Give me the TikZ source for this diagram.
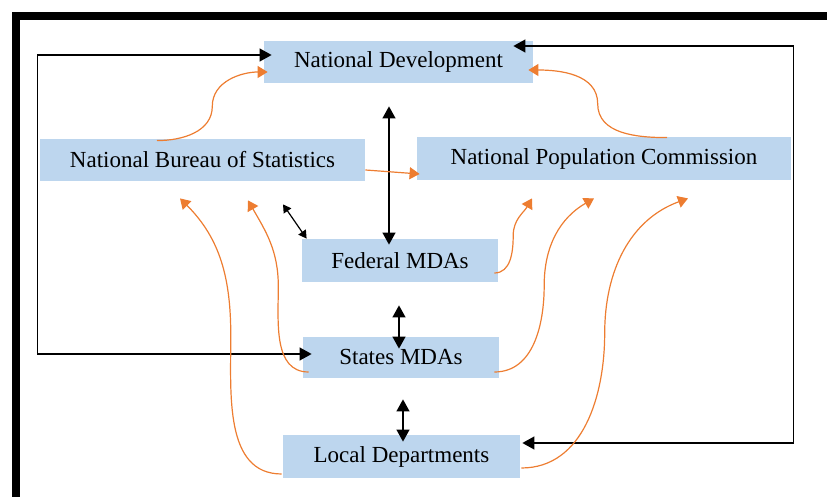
\documentclass[tikz,border=0pt]{standalone}
\usepackage{fontspec}
\setmainfont{Liberation Serif}
\usetikzlibrary{arrows.meta,calc}
\definecolor{boxblue}{RGB}{189,214,238}
\definecolor{feedorange}{RGB}{237,125,49}

\begin{document}
\begin{tikzpicture}[x=0.5pt,y=0.5pt,
    box/.style={fill=boxblue,inner sep=0pt,font=\fontsize{11.5}{13}\selectfont},
    link/.style={line width=0.6pt,{Triangle[length=6pt,width=6.5pt]}-{Triangle[length=6pt,width=6.5pt]}},
    slink/.style={line width=0.6pt,{Triangle[length=4pt,width=4.5pt]}-{Triangle[length=4pt,width=4.5pt]}},
    feed/.style={draw=feedorange,line width=0.6pt,-{Triangle[length=5pt,width=6pt]}}]
  \useasboundingbox (0,0) rectangle (827,497);
  \draw[line width=4pt] (16,-5) -- (16,481) -- (832,481);

  \node[box,minimum width=134.5pt,minimum height=21pt] (nd) at (398.5,435) {National Development};
  \node[box,minimum width=162.5pt,minimum height=21pt] (nbs) at (202.5,337) {National Bureau of Statistics};
  \node[box,minimum width=187pt,minimum height=21.5pt] (npc) at (604,338.5) {National Population Commission};
  \node[box,minimum width=98pt,minimum height=21.5pt] (fed) at (400,236.5) {Federal MDAs};
  \node[box,minimum width=98pt,minimum height=20.5pt] (sta) at (401,139.5) {States MDAs};
  \node[box,minimum width=118.5pt,minimum height=21.5pt] (loc) at (401.5,40.5) {Local Departments};

  % two-way links
  \draw[link] ($(nd.south)+(-9.5,-23)$) -- ($(fed.north)+(-11,-6)$);
  \draw[slink] ($(nbs.south)+(80.5,-23)$) -- ($(fed.north west)+(5,0)$);
  \draw[link] ($(fed.south)+(-1,-23)$) -- ($(sta.north)+(-2,-12)$);
  \draw[link] ($(sta.south)+(2,-21)$) -- ($(loc.north)+(1.5,-7)$);
  \draw[link] ($(nd.west)+(8,7)$) -- ($(nd.west)+(-226,7)$) |- ($(sta.west)+(9,3.5)$);
  \draw[link] ($(nd.east)+(-20,16)$) -- ($(nd.east)+(260,16)$) |- ($(loc.east)+(2,13.5)$);

  % ends of the data flows
  \coordinate (nbs1) at ($(nbs.north)+(-45.5,-2)$);
  \coordinate (nd1) at ($(nd.west)+(4,-10)$);
  \coordinate (npc1) at ($(npc.north)+(63,-1)$);
  \coordinate (nd2) at ($(nd.east)+(-5,-8)$);
  \coordinate (loc1) at ($(loc.west)+(-1,-17.5)$);
  \coordinate (nbs2) at ($(nbs.south)+(-22.5,-17)$);
  \coordinate (sta1) at ($(sta.west)+(6,-14.5)$);
  \coordinate (nbs3) at ($(nbs.south)+(45.5,-19)$);
  \coordinate (fed1) at ($(fed.east)+(-4,-12.5)$);
  \coordinate (npc2) at ($(npc.south)+(-72,-18)$);
  \coordinate (sta2) at ($(sta.east)+(-5,-14.5)$);
  \coordinate (npc3) at ($(npc.south)+(-10,-18)$);
  \coordinate (loc2) at ($(loc.east)+(1,-11.5)$);
  \coordinate (npc4) at ($(npc.south)+(84,-18)$);

  % data flows
  \draw[feed] (nbs1) to[out=0,in=-90] ($(nbs1)!.5!(nd1)$) to[out=90,in=180] (nd1);
  \draw[feed] (npc1) to[out=180,in=-90] ($(npc1)!.5!(nd2)$) to[out=90,in=0] (nd2);
  \draw[feed] ($(nbs.east)+(0,-10)$) -- ($(npc.west)+(3,-15.5)$);
  \draw[feed] (loc1) to[out=180,in=-90] ($(loc1)!.5!(nbs2)$) to[out=90,in=-45] (nbs2);
  \draw[feed] (sta1) to[out=180,in=-90] ($(sta1)!.5!(nbs3)$) to[out=90,in=-60] (nbs3);
  \draw[feed] (fed1) to[out=0,in=-90] ($(fed1)!.5!(npc2)$) to[out=90,in=-120] (npc2);
  \draw[feed] (sta2) to[out=0,in=-90] ($(sta2)!.5!(npc3)$) to[out=90,in=-150] (npc3);
  \draw[feed] (loc2) to[out=0,in=-90] ($(loc2)!.5!(npc4)$) to[out=90,in=-160] (npc4);
\end{tikzpicture}
\end{document}
